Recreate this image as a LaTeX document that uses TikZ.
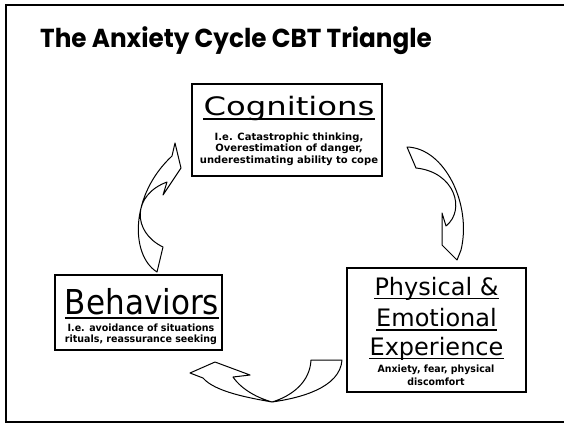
\documentclass[tikz,border=0pt]{standalone}
\usepackage{graphicx}
\usepackage{fontspec}
\setmainfont{DejaVu Sans}
\newfontfamily\titlefont{Poppins}

\begin{document}
\begin{tikzpicture}[x=1pt,y=-1pt,
  frame/.style={line width=2pt},
  box/.style={draw, line width=1.6pt, inner sep=0pt},
  heading/.style={anchor=base, inner sep=0pt},
  note/.style={anchor=base, inner sep=0pt, font=\fontsize{10}{10}\selectfont\bfseries},
  uline/.style={line width=1.4pt},
  cyc/.style={line width=1pt, line join=round}]
\useasboundingbox (0,0) rectangle (564,424);

% slide frame
\draw[frame] (564,5) -- (6,5) -- (6,421.5) -- (564,421.5);

% title
\node[anchor=base west, inner sep=0pt,
      font=\titlefont\bfseries\fontsize{26}{26}\selectfont] (title) at (40,47)
  {\scalebox{0.95}[1]{The Anxiety Cycle CBT Triangle}};

% boxes
\node[box, minimum width=190pt, minimum height=92pt] (cog) at (287,130) {};
\node[box, minimum width=167pt, minimum height=75pt] (beh) at (138.5,312.5) {};
\node[box, minimum width=179pt, minimum height=124pt] (phy) at (436.5,330) {};

% Cognitions
\node[heading, font=\fontsize{25.4}{25.4}\selectfont] (cogt) at (289,115.5)
  {\scalebox{1.27}[1]{Cognitions}};
\draw[uline] ([yshift=-3.5pt]cogt.base west) -- ([yshift=-3.5pt]cogt.base east);
\node[note] (cog1) at (289,140) {I.e. Catastrophic thinking,};
\node[note] (cog2) at (289,151.7) {Overestimation of danger,};
\node[note] (cog3) at (289,163.4) {underestimating ability to cope};

% Behaviors
\node[heading, font=\fontsize{34.3}{34.3}\selectfont] (beht) at (142,314)
  {\scalebox{0.905}[1]{Behaviors}};
\draw[uline] ([yshift=-4pt]beht.base west) -- ([yshift=-4pt]beht.base east);
\node[note] (beh1) at (141,331) {\scalebox{0.95}[1]{I.e. avoidance of situations}};
\node[note] (beh2) at (141,342.5) {\scalebox{0.95}[1]{rituals, reassurance seeking}};

% Physical & Emotional Experience
\node[heading, font=\fontsize{24}{24}\selectfont] (phy1) at (436.5,295) {Physical \&};
\draw[uline] ([yshift=-3.5pt]phy1.base west) -- ([yshift=-3.5pt]phy1.base east);
\node[heading, font=\fontsize{24}{24}\selectfont] (phy2) at (436.5,326.5) {Emotional};
\draw[uline] ([yshift=-3.5pt]phy2.base west) -- ([yshift=-3.5pt]phy2.base east);
\node[heading, font=\fontsize{24}{24}\selectfont] (phy3) at (436.5,355) {Experience};
\draw[uline] ([yshift=-3.5pt]phy3.base west) -- ([yshift=-3.5pt]phy3.base east);
\node[note] (phy4) at (436,372) {\scalebox{0.94}[1]{Anxiety, fear, physical}};
\node[note] (phy5) at (436,385) {\scalebox{0.94}[1]{discomfort}};

% curved block arrows of the cycle
% Behaviors -> Cognitions
\draw[cyc] (157,272) .. controls (130,255) and (130,195) .. (172,156)
  -- (175,143) -- (181,168) -- (163,195) -- (167,182)
  .. controls (132,195) and (132,232) .. (163,247) -- cycle;
% Cognitions -> Physical & Emotional Experience
\draw[cyc] (407,147) .. controls (445,148) and (472,205) .. (461,250)
  -- (457,260) -- (442,245) -- (442,213) -- (446,226)
  .. controls (466,210) and (455,172) .. (416,168) -- cycle;
% Physical & Emotional Experience -> Behaviors
\draw[cyc] (311,360) .. controls (310,382) and (292,396) .. (272,402)
  .. controls (250,398) and (215,392) .. (203,378)
  -- (190,373) -- (215,362) -- (250,375) -- (233,377)
  .. controls (242,390) and (258,398) .. (272,402)
  .. controls (300,398) and (340,388) .. (342,360) -- cycle;
\end{tikzpicture}
\end{document}
